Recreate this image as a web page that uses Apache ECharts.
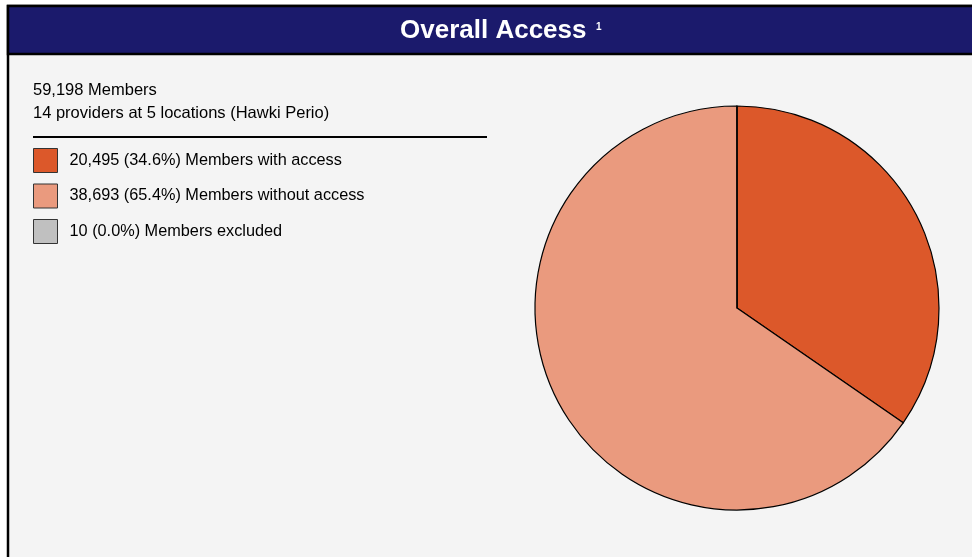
<!DOCTYPE html>
<html>
<head>
<meta charset="utf-8">
<script src="https://cdn.jsdelivr.net/npm/echarts@6/dist/echarts.min.js"></script>
<style>
  html, body { margin: 0; padding: 0; background: #ffffff; }
  #chart { width: 972px; height: 557px; }
</style>
</head>
<body>
<div id="chart"></div>
<script>
// Member access breakdown
const categories = ['Members with access', 'Members without access', 'Members excluded'];
const memberCounts = [20495, 38693, 10];
const sliceColors = ['#dc582a', '#ea9a7e', '#c0c0c0'];
const titleText = 'Overall Access';
const providerLine = '14 providers at 5 locations (Hawki Perio)';

const total = memberCounts.reduce((a, b) => a + b, 0);
const fmt = n => n.toLocaleString('en-US');
const legendText = {};
categories.forEach((c, i) => {
  legendText[c] = fmt(memberCounts[i]) + ' (' + (memberCounts[i] / total * 100).toFixed(1) + '%) ' + c;
});

const chart = echarts.init(document.getElementById('chart'), null, { renderer: 'canvas' });
const font = '"Liberation Sans", Arial, sans-serif';

chart.setOption({
  animation: false,
  backgroundColor: '#ffffff',
  textStyle: { fontFamily: font },
  graphic: [
    // panel body
    { type: 'rect', z: 0, shape: { x: 8, y: 6, width: 980, height: 570 },
      style: { fill: '#f4f4f4', stroke: '#000', lineWidth: 2.5 } },
    // header band
    { type: 'rect', z: 1, shape: { x: 8, y: 6, width: 980, height: 48 },
      style: { fill: '#1b1a6c', stroke: '#000', lineWidth: 2.5 } },
    { type: 'text', z: 2, left: 400, top: 18,
      style: { text: titleText, fill: '#fff', font: 'bold 26px ' + font } },
    { type: 'text', z: 2, left: 596, top: 22,
      style: { text: '1', fill: '#fff', font: 'bold 10px ' + font } },
    // summary text
    { type: 'text', z: 2, left: 33, top: 82,
      style: { text: fmt(total) + ' Members', fill: '#000', font: '16.5px ' + font } },
    { type: 'text', z: 2, left: 33, top: 105,
      style: { text: providerLine, fill: '#000', font: '16.5px ' + font } },
    { type: 'line', z: 2, shape: { x1: 33, y1: 137, x2: 487, y2: 137 },
      style: { stroke: '#000', lineWidth: 2 } }
  ],
  legend: {
    orient: 'vertical',
    left: 33,
    top: 148,
    padding: 0,
    itemWidth: 24,
    itemHeight: 24,
    itemGap: 10.5,
    icon: 'rect',
    selectedMode: false,
    data: categories,
    itemStyle: { borderColor: '#333', borderWidth: 1 },
    formatter: name => legendText[name],
    textStyle: { fontSize: 16.3, color: '#000', fontFamily: font, padding: [0, 0, 0, 7] }
  },
  series: [{
    type: 'pie',
    center: [737, 308],
    radius: 202,
    startAngle: 90,
    clockwise: true,
    silent: true,
    label: { show: false },
    labelLine: { show: false },
    itemStyle: { borderColor: '#000', borderWidth: 1.2 },
    data: categories.map((c, i) => ({ name: c, value: memberCounts[i], itemStyle: { color: sliceColors[i] } }))
  }]
});
</script>
</body>
</html>
